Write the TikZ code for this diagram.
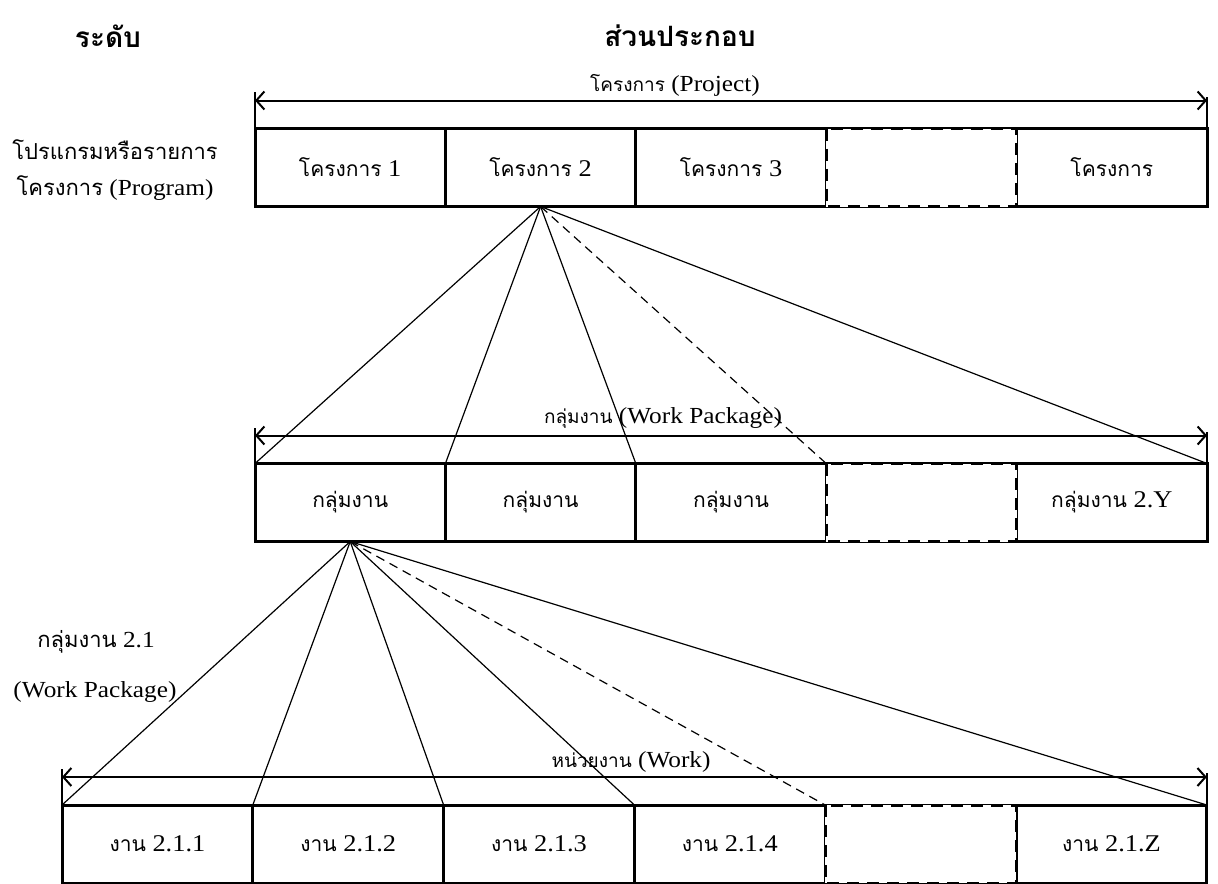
\documentclass[tikz,border=0pt]{standalone}
\usepackage{fontspec}
\setmainfont{Liberation Serif}[FakeStretch=1.1]
\newfontfamily\thai[Script=Thai]{Loma}
\usetikzlibrary{arrows.meta}
\newcommand{\tx}[1]{{\thai\fontsize{10.5}{12}\selectfont #1}}
\newcommand{\ts}[1]{{\thai\fontsize{9.5}{11}\selectfont #1}}
\newcommand{\tl}[1]{{\thai\fontsize{11}{13}\selectfont #1}}
\tikzset{
  cell/.style={draw, line width=1.5pt, minimum width=95.2pt, minimum height=39pt,
               inner sep=0pt, outer sep=0pt, font=\fontsize{12}{14}\selectfont},
  wcell/.style={cell, minimum width=95.4pt},
  gap/.style={fill=white, dash pattern=on 6pt off 4pt},
  span/.style={{Straight Barb[length=4pt,width=9pt]}-{Straight Barb[length=4pt,width=9pt]}, line width=1pt},
  tick/.style={line width=0.8pt},
  fan/.style={line width=0.6pt},
  fandash/.style={fan, dash pattern=on 4.5pt off 3pt},
  lbl/.style={font=\fontsize{11.5}{13}\selectfont, inner sep=1pt},
  head/.style={font=\thai\bfseries\fontsize{14}{16}\selectfont}
}
\begin{document}
\begin{tikzpicture}[x=0.5pt,y=-0.5pt]
      \useasboundingbox (0,0) rectangle (1218,883);
      % headings
      \node[head] (Hlevel) at (108,36) {ระดับ};
      \node[head] (Hpart) at (680,36) {ส่วนประกอบ};
      \node[lbl] (Lprog1) at (115,150) {\tl{โปรแกรมหรือรายการ}};
      \node[lbl] (Lprog2) at (115,188) {\tl{โครงการ} (Program)};
      \node[lbl] (Lwp1) at (96,642) {\tl{กลุ่มงาน} 2.1};
      \node[lbl] (Lwp2) at (95,692) {(Work Package)};
      % rows of boxes
      \foreach \i/\t in {1/{\tx{โครงการ} 1}, 2/{\tx{โครงการ} 2}, 3/{\tx{โครงการ} 3}, 4/{}, 5/{\tx{โครงการ}}}{
        \node[cell](P\i) at (255+190.4*\i-95.2, 167.5){\t};
      }
      \foreach \i/\t in {1/{\tx{กลุ่มงาน}}, 2/{\tx{กลุ่มงาน}}, 3/{\tx{กลุ่มงาน}}, 4/{}, 5/{\tx{กลุ่มงาน} 2.Y}}{
        \node[cell](W\i) at (255+190.4*\i-95.2, 502.5){\t};
      }
      \foreach \i/\t in {1/{\tx{งาน} 2.1.1}, 2/{\tx{งาน} 2.1.2}, 3/{\tx{งาน} 2.1.3}, 4/{\tx{งาน} 2.1.4},
                         5/{}, 6/{\tx{งาน} 2.1.Z}}{
        \node[wcell](T\i) at (62+190.8*\i-95.4, 844){\t};
      }
      % the gaps drawn dashed over the rows
      \foreach \g in {P4, W4, T5}{
        \draw[gap, line width=1.5pt] (\g.north west) rectangle (\g.south east);
      }
      % span arrows with end ticks
      \foreach \a/\b/\n in {P1/P5/P, W1/W5/W, T1/T6/T}{
        \coordinate (\n L) at ([yshift=14pt]\a.north west);
        \coordinate (\n R) at ([yshift=14pt]\b.north east);
        \draw[tick] (\a.north west) -- ([yshift=18pt]\a.north west);
        \draw[tick] (\b.north east) -- ([yshift=16pt]\b.north east);
        \draw[span] (\n L) -- (\n R);
      }
      \node[lbl] (Pspan) at (675,85) {\ts{โครงการ} (Project)};
      \node[lbl] (Wspan) at (663,418) {\ts{กลุ่มงาน} (Work Package)};
      \node[lbl] (Tspan) at (631,762) {\ts{หน่วยงาน} (Work)};
      % fans
      \foreach \c in {W1.north west, W2.north west, W3.north west, W5.north east}{
        \draw[fan] (P2.south) -- (\c);
      }
      \draw[fandash] (P2.south) -- (W4.north west);
      \foreach \c in {T1.north west, T2.north west, T3.north west, T4.north west, T6.north east}{
        \draw[fan] (W1.south) -- (\c);
      }
      \draw[fandash] (W1.south) -- (T5.north west);
    \end{tikzpicture}
\end{document}
